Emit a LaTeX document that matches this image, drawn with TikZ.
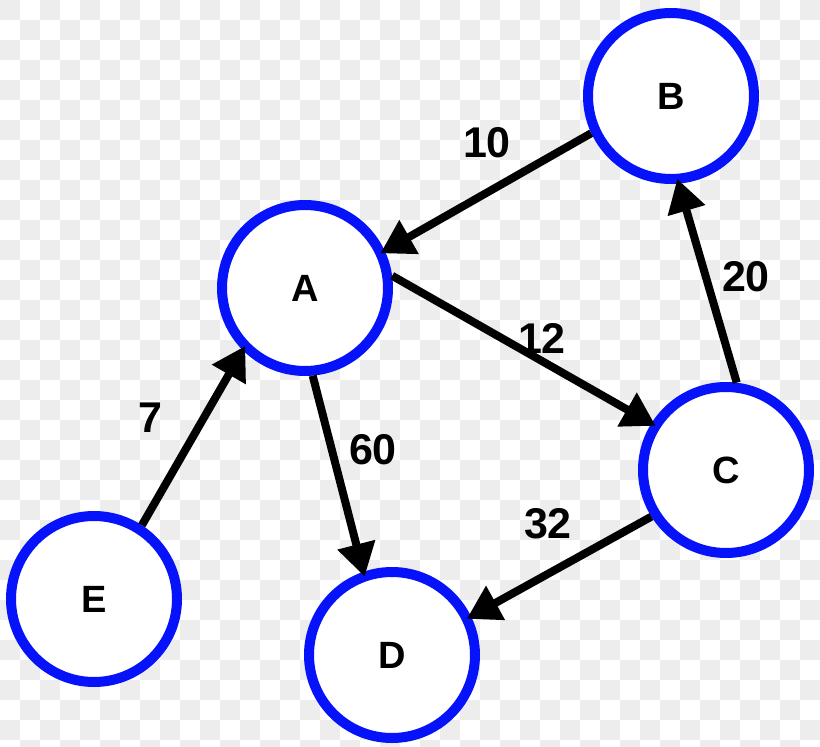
\documentclass[tikz,border=0pt]{standalone}
\usepackage{fontspec}
\setmainfont{Liberation Sans}
\usetikzlibrary{arrows.meta}
\definecolor{ringblue}{RGB}{5,18,250}
\definecolor{checkgray}{RGB}{237,237,237}
\tikzset{
  vtx/.style={circle, draw=ringblue, fill=white, line width=10pt, minimum size=166pt, inner sep=0pt,
    font=\fontsize{38}{42}\selectfont\bfseries},
  edge/.style={line width=8pt, -{Triangle[length=33pt,width=37pt]}, shorten >=-5pt},
  wlabel/.style={font=\fontsize{43}{48}\selectfont\bfseries, inner sep=0pt}
}
\begin{document}
\begin{tikzpicture}[x=1pt,y=-1pt]
\useasboundingbox (0,0) rectangle (820,747);
\begin{scope}
\clip (0,0) rectangle (820,747);
\fill[white] (0,0) rectangle (820,747);
\foreach \j in {0,...,37}{
  \pgfmathsetmacro\off{mod(\j,2)*20}
  \foreach \i in {0,2,...,40}{
    \fill[checkgray] (\i*20+\off,\j*20) rectangle ++(20,20);
  }
}
\end{scope}
\node[vtx] (A) at (305,288) {A};
\node[vtx] (B) at (671,96) {B};
\node[vtx] (C) at (726,470) {C};
\node[vtx] (D) at (392,655) {D};
\node[vtx] (E) at (94,599) {E};
\draw[edge] (B.205) -- (A.25);
\draw[edge] (C.83) -- (B.-85);
\draw[edge] (A.8) -- (C.148);
\draw[edge] (A.-85) -- (D.109);
\draw[edge] (C.212) -- (D.26);
\draw[edge] (E.57) -- (A.225);
\node[wlabel] (l10) at (487,143) {10};
\node[wlabel] (l20) at (746,277) {20};
\node[wlabel] (l12) at (542,338) {12};
\node[wlabel] (l7) at (150,418) {7};
\node[wlabel] (l60) at (373,450) {60};
\node[wlabel] (l32) at (548,524) {32};
\end{tikzpicture}
\end{document}
